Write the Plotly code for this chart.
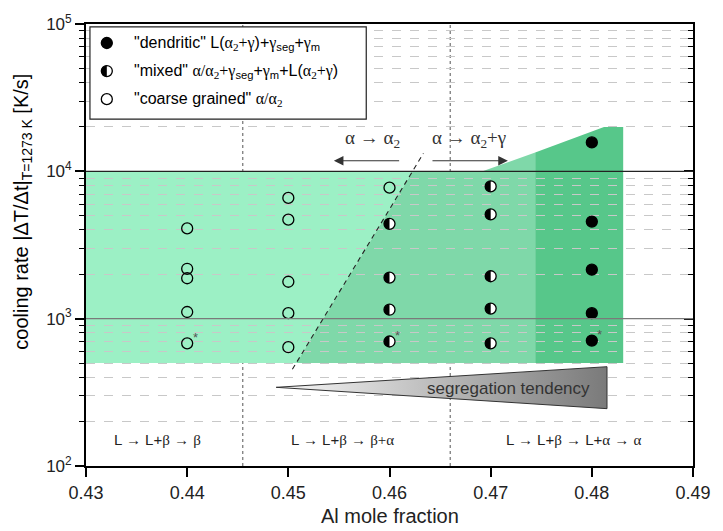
import math
import plotly.graph_objects as go

# ---- measured samples (Al mole fraction, cooling rate in K/s) ----
x_coarse = [0.44, 0.44, 0.44, 0.44, 0.44, 0.45, 0.45, 0.45, 0.45, 0.45, 0.46]
y_coarse = [4100, 2180, 1880, 1110, 680, 6600, 4700, 1780, 1090, 640, 7750]
x_mixed = [0.46, 0.46, 0.46, 0.46, 0.47, 0.47, 0.47, 0.47, 0.47]
y_mixed = [4400, 1900, 1150, 700, 7900, 5100, 1940, 1170, 680]
x_dendritic = [0.48, 0.48, 0.48, 0.48, 0.48]
y_dendritic = [15700, 4560, 2150, 1090, 710]
x_starred = [0.44, 0.46, 0.48]
y_starred = [680, 700, 710]

# ---- microstructure regions ----
light_x = [0.43, 0.4508, 0.4623, 0.43]
light_y = [500, 500, 1e4, 1e4]
mid_x = [0.4508, 0.4744, 0.4744, 0.4692, 0.4623]
mid_y = [500, 500, 13430, 1e4, 1e4]
dark_x = [0.4744, 0.4831, 0.4831, 0.4812, 0.4744]
dark_y = [500, 500, 2e4, 2e4, 13430]
boundary_x = [0.4504, 0.46335]
boundary_y = [453, 13240]
phase_bounds = [0.4455, 0.466]
seg_x = [0.4488, 0.4815, 0.4815, 0.4488]
seg_y = [342, 472, 245, 342]

# ---- solidification paths ----
phase_x = [0.4371, 0.4554, 0.4782]
phase_y = 152

x_ticks = [0.43, 0.44, 0.45, 0.46, 0.47, 0.48, 0.49]
y_exponents = [2, 3, 4, 5]

SANS = "Liberation Sans, Arial, sans-serif"
SERIF = "Liberation Serif"
LIGHT = "#9cf0c5"
MID = "#7fd8a9"
DARK = "#57c78a"


def gr(s):
    return f'<span style="font-family:{SERIF}">{s}</span>'


def poly_path(xs, ys):
    pts = [f"{x},{y}" for x, y in zip(xs, ys)]
    return "M" + "L".join(pts) + "Z"


R = 5.5
K = 0.5523 * R
# filled left half of a circle marker, in pixels around its anchor
HALF = (f"M0,{R} C{-K},{R} {-R},{K} {-R},0 "
        f"C{-R},{-K} {-K},{-R} 0,{-R} Z")

y_decades = [10 ** e for e in y_exponents]
minor_vals = [m * d for d in y_decades[:-1] for m in range(2, 10)]

fig = go.Figure()

marker_line = dict(color="black", width=1.3)
fig.add_trace(go.Scatter(x=x_coarse, y=y_coarse, mode="markers",
                         marker=dict(symbol="circle", size=11, color="rgba(0,0,0,0)",
                                     line=marker_line),
                         showlegend=False))
fig.add_trace(go.Scatter(x=x_mixed, y=y_mixed, mode="markers",
                         marker=dict(symbol="circle", size=11, color="white",
                                     line=marker_line),
                         showlegend=False))
fig.add_trace(go.Scatter(x=x_dendritic, y=y_dendritic, mode="markers",
                         marker=dict(symbol="circle", size=11, color="black",
                                     line=marker_line),
                         showlegend=False))

# segregation wedge
fig.add_trace(go.Scatter(x=seg_x, y=seg_y, mode="lines", fill="toself",
                         line=dict(color="#333333", width=1),
                         fillgradient=dict(type="horizontal",
                                           colorscale=[[0, "#f8f8f8"], [1, "#7a7a7a"]]),
                         showlegend=False, hoverinfo="skip"))

# empty trace carrying the right-hand tick axis
fig.add_trace(go.Scatter(x=[], y=[], yaxis="y2", showlegend=False))

shapes = []
for xs, ys, col in [(light_x, light_y, LIGHT), (mid_x, mid_y, MID), (dark_x, dark_y, DARK)]:
    shapes.append(dict(type="path", xref="x", yref="y", path=poly_path(xs, ys),
                       fillcolor=col, line=dict(width=0), layer="below"))

shapes.append(dict(type="line", xref="paper", yref="y", x0=0, x1=1, y0=1000, y1=1000,
                   line=dict(color="#7a7a7a", width=1.3), layer="above"))
shapes.append(dict(type="line", xref="paper", yref="y", x0=0, x1=1, y0=10000, y1=10000,
                   line=dict(color="#222222", width=1.4), layer="above"))
for xb in phase_bounds:
    shapes.append(dict(type="line", xref="x", yref="paper", x0=xb, x1=xb, y0=0, y1=1,
                       line=dict(color="#555555", width=1, dash="dot"), layer="between"))
shapes.append(dict(type="line", xref="x", yref="y",
                   x0=boundary_x[0], y0=boundary_y[0], x1=boundary_x[1], y1=boundary_y[1],
                   line=dict(color="#222222", width=1.1, dash="5px,4px"), layer="between"))

for xm, ym in zip(x_mixed, y_mixed):
    shapes.append(dict(type="path", xref="x", yref="y", xsizemode="pixel", ysizemode="pixel",
                       xanchor=xm, yanchor=ym, path=HALF, fillcolor="black",
                       line=dict(width=0), layer="above"))

# legend box
lg_x0, lg_x1, lg_y0, lg_y1 = 0.0065, 0.4617, 0.785, 0.9933
shapes.append(dict(type="rect", xref="paper", yref="paper", x0=lg_x0, x1=lg_x1,
                   y0=lg_y0, y1=lg_y1, fillcolor="white",
                   line=dict(color="#222222", width=1.2), layer="above"))
leg_rows = [0.957, 0.8936, 0.83]
leg_mx = 0.0343
circ = dict(type="circle", xref="paper", yref="paper", xsizemode="pixel", ysizemode="pixel",
            x0=-R, x1=R, y0=-R, y1=R, layer="above")
shapes.append(dict(circ, xanchor=leg_mx, yanchor=leg_rows[0], fillcolor="black",
                   line=dict(color="black", width=1.3)))
shapes.append(dict(circ, xanchor=leg_mx, yanchor=leg_rows[1], fillcolor="white",
                   line=dict(color="black", width=1.3)))
shapes.append(dict(type="path", xref="paper", yref="paper", xsizemode="pixel",
                   ysizemode="pixel", xanchor=leg_mx, yanchor=leg_rows[1], path=HALF,
                   fillcolor="black", line=dict(width=0), layer="above"))
shapes.append(dict(circ, xanchor=leg_mx, yanchor=leg_rows[2], fillcolor="white",
                   line=dict(color="black", width=1.3)))

leg_texts = [
    '"dendritic" L(' + gr("α<sub>2</sub>+γ") + ")+" + gr("γ") + "<sub>seg</sub>+" + gr("γ") + "<sub>m</sub>",
    '"mixed" ' + gr("α/α<sub>2</sub>+γ") + "<sub>seg</sub>+" + gr("γ") + "<sub>m</sub>+L(" + gr("α<sub>2</sub>+γ") + ")",
    '"coarse grained" ' + gr("α/α<sub>2</sub>"),
]

ann = []
for t, yr in zip(leg_texts, leg_rows):
    ann.append(dict(xref="paper", yref="paper", x=0.075, y=yr, text=t, showarrow=False,
                    xanchor="left", yanchor="middle",
                    font=dict(family=SANS, size=16, color="black")))

# transformation arrows
arrow_y = math.log10(11800)
ann.append(dict(xref="x", yref="y", x=0.4545, y=arrow_y, ax=0.4611, ay=arrow_y,
                axref="x", ayref="y", text="", showarrow=True, arrowhead=2,
                arrowsize=1.6, arrowwidth=1.2, arrowcolor="#333333"))
ann.append(dict(xref="x", yref="y", x=0.4717, y=arrow_y, ax=0.4641, ay=arrow_y,
                axref="x", ayref="y", text="", showarrow=True, arrowhead=2,
                arrowsize=1.6, arrowwidth=1.2, arrowcolor="#333333"))
label_y = math.log10(16500)
ann.append(dict(xref="x", yref="y", x=0.4583, y=label_y, showarrow=False,
                text=gr("α → α<sub>2</sub>"), font=dict(family=SERIF, size=19, color="#333333")))
ann.append(dict(xref="x", yref="y", x=0.4679, y=label_y, showarrow=False,
                text=gr("α → α<sub>2</sub>+γ"), font=dict(family=SERIF, size=19, color="#333333")))

# wedge label
ann.append(dict(xref="x", yref="y", x=0.4718, y=math.log10(337), showarrow=False,
                text="segregation tendency", font=dict(family=SANS, size=17, color="#333333")))

# solidification paths
phase_texts = [
    "L " + gr("→") + " L+" + gr("β") + " " + gr("→") + " " + gr("β"),
    "L " + gr("→") + " L+" + gr("β") + " " + gr("→") + " " + gr("β+α"),
    "L " + gr("→") + " L+" + gr("β") + " " + gr("→") + " L+" + gr("α") + " " + gr("→") + " " + gr("α"),
]
for t, xp in zip(phase_texts, phase_x):
    ann.append(dict(xref="x", yref="y", x=xp, y=math.log10(phase_y), text=t, showarrow=False,
                    font=dict(family=SANS, size=15, color="#222222")))

# sample markers flagged with an asterisk
for xs, ys in zip(x_starred, y_starred):
    ann.append(dict(xref="x", yref="y", x=xs, y=math.log10(ys), text="*", showarrow=False,
                    xshift=8, yshift=6, font=dict(family=SANS, size=13, color="#555555")))

# axis titles
ann.append(dict(xref="paper", yref="paper", x=-0.104, y=0.575, textangle=-90,
                xanchor="center", yanchor="middle",
                text="cooling rate |ΔT/Δt|<sub>T=1273 K</sub> [K/s]", showarrow=False,
                font=dict(family=SANS, size=20, color="black")))
ann.append(dict(xref="paper", yref="paper", x=0.5, y=-0.113, text="Al mole fraction",
                xanchor="center", yanchor="middle",
                showarrow=False, font=dict(family=SANS, size=20, color="#222222")))

fig.update_layout(
    width=723, height=531,
    margin=dict(l=86, r=24, t=15, b=65),
    plot_bgcolor="white", paper_bgcolor="white",
    shapes=shapes, annotations=ann,
    showlegend=False,
    xaxis=dict(range=[0.43, 0.49], tickvals=x_ticks, ticktext=[f"{v:.2f}" for v in x_ticks],
               ticks="outside", ticklen=9, tickwidth=1.5, tickcolor="black",
               showline=True, linecolor="black", linewidth=1.8, mirror=True,
               showgrid=False, zeroline=False,
               tickfont=dict(family=SANS, size=18, color="#222222")),
    yaxis=dict(type="log", range=[2, 5], tickvals=y_decades,
               ticktext=[f"10<sup>{e}</sup>" for e in y_exponents],
               ticks="outside", ticklen=9, tickwidth=1.5, tickcolor="black",
               showline=True, linecolor="black", linewidth=1.8, mirror=True,
               showgrid=False, zeroline=False,
               minor=dict(tickvals=minor_vals, ticks="outside", ticklen=5, tickwidth=1.3,
                          tickcolor="black", showgrid=True, gridcolor="#c8c8c8",
                          griddash="dash", gridwidth=1),
               tickfont=dict(family=SANS, size=17, color="#222222")),
    yaxis2=dict(type="log", range=[2, 5], overlaying="y", side="right",
                tickvals=y_decades, showticklabels=False, ticks="inside", ticklen=9,
                tickwidth=1.5, tickcolor="black", showgrid=False, showline=False,
                zeroline=False,
                minor=dict(tickvals=minor_vals, ticks="inside", ticklen=5, tickwidth=1.3,
                           tickcolor="black", showgrid=False)),
)

fig.write_html("out.html")
